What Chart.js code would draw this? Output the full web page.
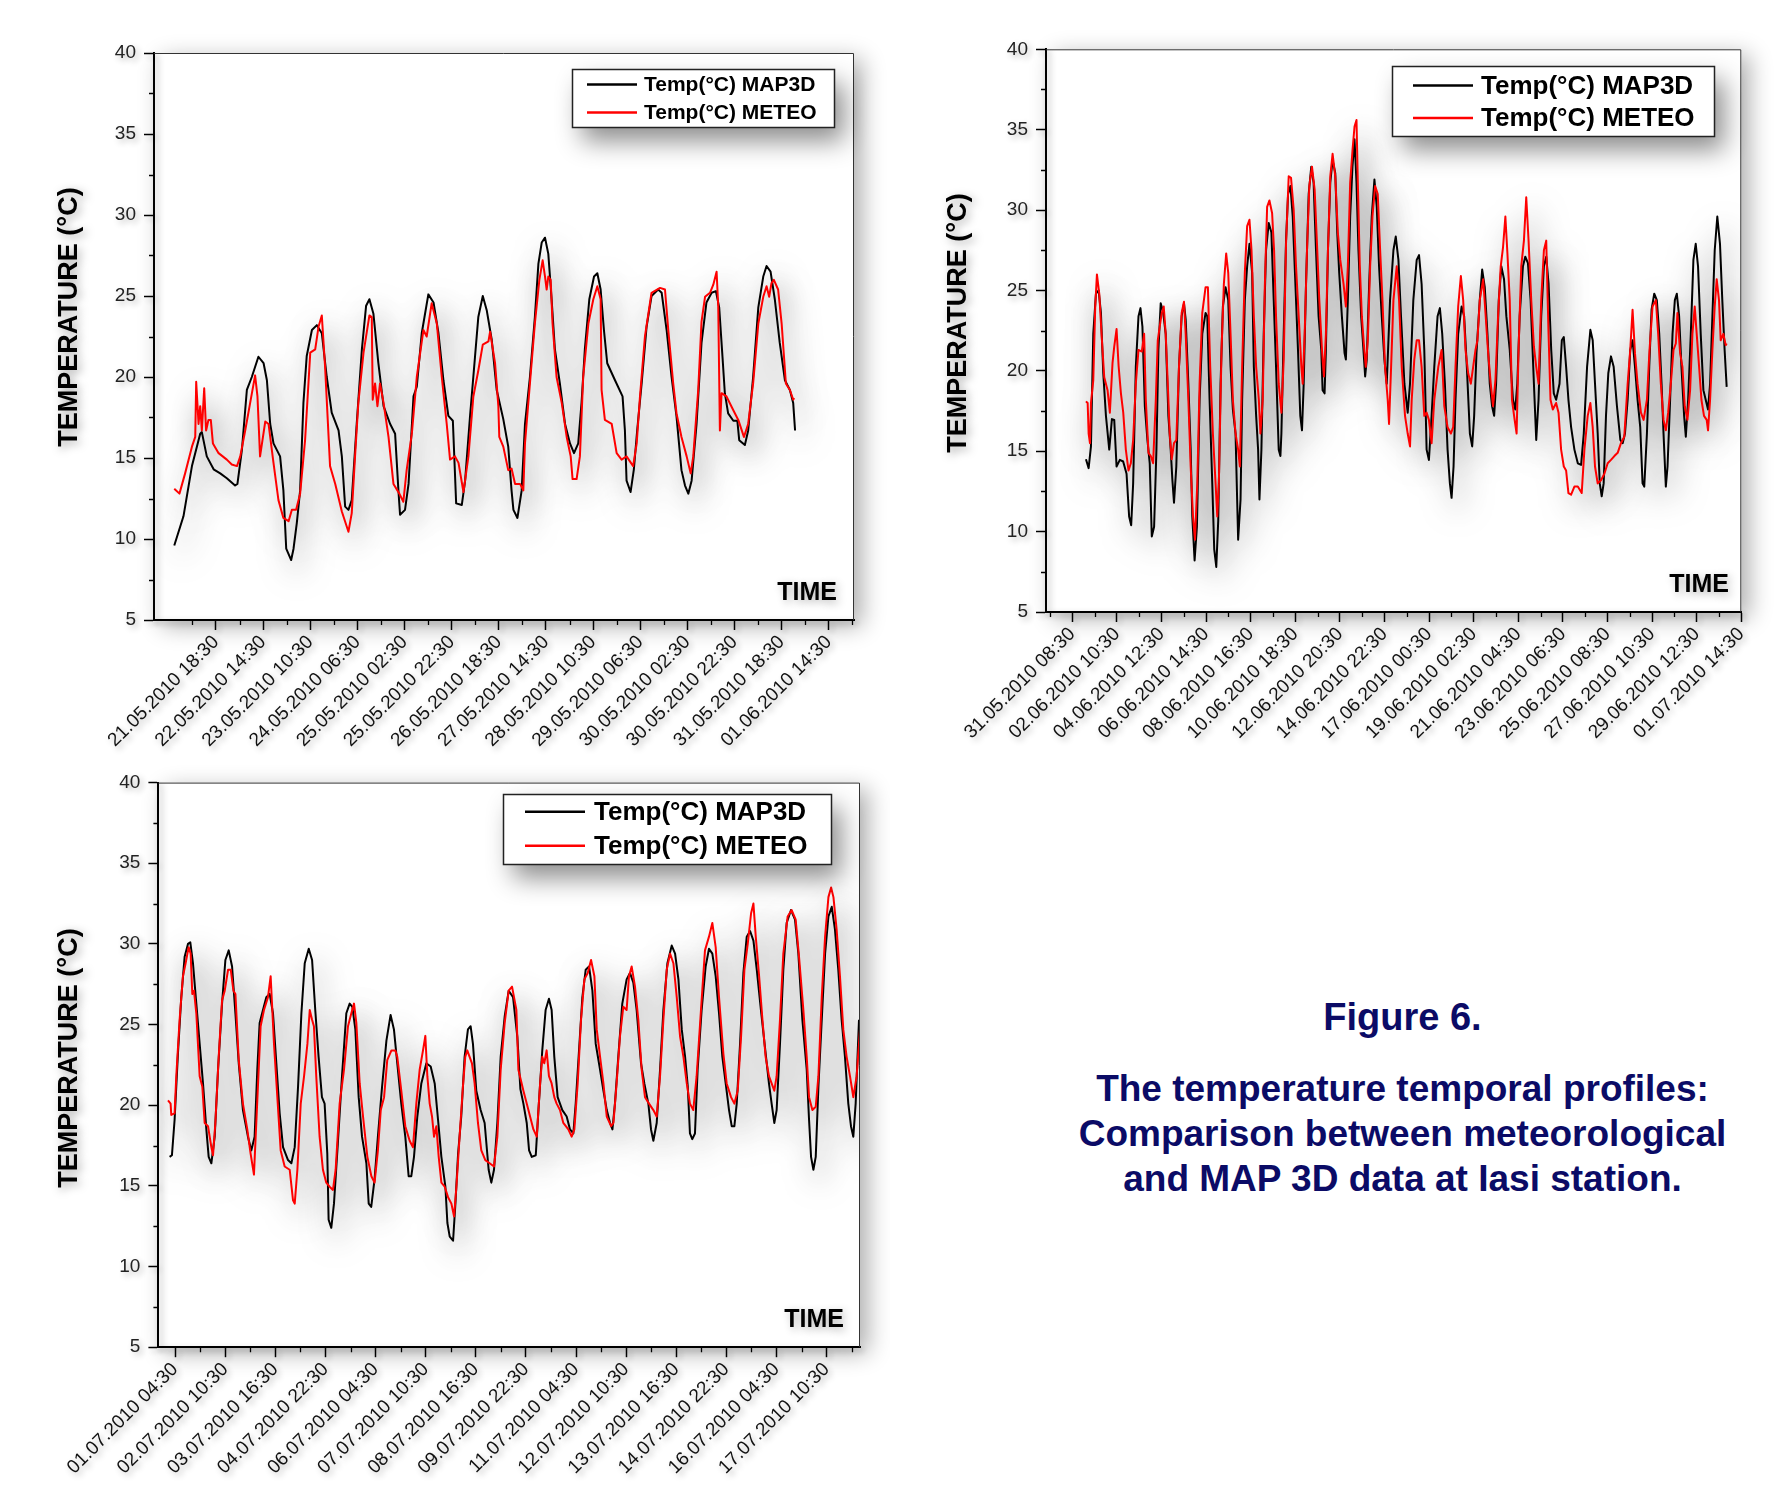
<!DOCTYPE html>
<html>
<head>
<meta charset="utf-8">
<script src="https://cdn.jsdelivr.net/npm/chart.js@4.4.0/dist/chart.umd.min.js"></script>
<style>
html,body{margin:0;padding:0;background:#fff;}
body{width:1789px;height:1499px;position:relative;overflow:hidden;font-family:"Liberation Sans",Arial,sans-serif;}
canvas{position:absolute;}
#c1{left:0;top:0;}
#c2{left:895px;top:0;}
#c3{left:0;top:760px;}
.cap{position:absolute;left:1030px;width:745px;text-align:center;color:#0b0b66;font-weight:bold;font-family:"Liberation Sans",Arial,sans-serif;white-space:nowrap;}
#fig{top:995px;font-size:38px;line-height:44px;}
#txt{top:1066px;font-size:37px;line-height:45px;}
</style>
</head>
<body>
<canvas id="c1" width="890" height="760"></canvas>
<canvas id="c2" width="894" height="770"></canvas>
<canvas id="c3" width="890" height="739"></canvas>
<div class="cap" id="fig">Figure 6.</div>
<div class="cap" id="txt">The temperature temporal profiles:<br>Comparison between meteorological<br>and MAP 3D data at Iasi station.</div>
<script>
// ---------------- DATA ----------------
const seriesNames = ['Temp(°C) MAP3D', 'Temp(°C) METEO'];
const yTickValues = [5, 10, 15, 20, 25, 30, 35, 40];
const yAxisTitle = 'TEMPERATURE (°C)';
const xAxisTitle = 'TIME';

// Panel 1 (hours since 21.05.2010 00:00)
const p1Origin = '21.05.2010 00:00';
const p1TickLabels = ['21.05.2010 18:30','22.05.2010 14:30','23.05.2010 10:30','24.05.2010 06:30','25.05.2010 02:30','25.05.2010 22:30','26.05.2010 18:30','27.05.2010 14:30','28.05.2010 10:30','29.05.2010 06:30','30.05.2010 02:30','30.05.2010 22:30','31.05.2010 18:30','01.06.2010 14:30'];
const p1Range = [-7.8, 289.2];
const p1Map3d = [[0.8,9.6],[4.7,11.4],[8.3,14.5],[11.8,16.5],[12.5,16.6],[14.6,15.1],[17.5,14.3],[20.3,14.05],[23.1,13.75],[26.6,13.3],[27.6,13.4],[29.5,15.5],[31.6,19.2],[33.7,20.0],[36.5,21.25],[38.7,20.85],[40.1,19.8],[41.5,17.1],[42.9,15.9],[45.7,15.1],[47.1,13.0],[48.3,9.4],[50.4,8.7],[51.4,9.4],[52.8,11.0],[54.2,13.0],[55.6,18.4],[57.0,21.3],[59.2,22.9],[61.3,23.2],[63.4,22.7],[65.5,20.0],[67.6,17.8],[70.5,16.7],[71.9,15.1],[73.3,12.0],[74.7,11.8],[76.1,12.4],[78.2,17.1],[80.4,21.7],[82.2,24.4],[83.6,24.8],[85.3,23.9],[87.4,20.85],[89.6,18.2],[92.4,17.1],[94.5,16.5],[95.9,13.0],[96.6,11.5],[98.7,11.8],[100.2,13.4],[102.3,18.8],[103.7,19.4],[105.8,22.7],[108.6,25.1],[110.8,24.6],[112.9,22.7],[115.0,19.8],[117.1,17.6],[119.0,17.3],[120.4,12.2],[122.8,12.1],[124.2,13.6],[126.3,17.6],[128.4,21.25],[129.8,23.7],[131.7,25.0],[133.4,24.1],[135.5,22.3],[137.6,19.2],[140.4,17.4],[142.5,15.7],[143.9,13.0],[144.7,11.8],[146.4,11.3],[148.2,13.0],[149.6,17.1],[151.7,20.0],[153.8,23.7],[155.3,27.0],[156.7,28.3],[158.1,28.6],[159.5,27.6],[160.9,24.8],[162.3,21.7],[164.4,19.6],[166.6,17.1],[168.7,15.9],[170.4,15.3],[172.2,15.9],[173.6,18.4],[175.0,21.7],[176.9,24.8],[178.9,26.2],[180.3,26.4],[181.7,25.4],[183.1,22.9],[184.5,20.85],[187.8,19.8],[191.0,18.8],[192.0,16.7],[192.7,13.6],[194.4,12.9],[195.8,14.3],[197.2,16.7],[199.1,19.6],[201.2,23.1],[203.3,25.0],[206.1,25.4],[207.6,25.2],[209.7,22.9],[211.8,20.0],[213.9,17.55],[216.0,14.25],[217.5,13.3],[218.9,12.8],[220.3,13.6],[222.4,17.1],[224.5,22.1],[226.6,24.6],[228.8,25.2],[230.6,25.3],[232.0,24.3],[233.4,21.25],[234.4,19.0],[235.8,17.75],[238.0,17.3],[239.7,17.3],[240.5,16.1],[242.9,15.8],[244.3,16.7],[246.4,20.0],[248.6,24.3],[250.7,26.2],[252.1,26.85],[253.8,26.5],[255.6,24.8],[257.7,22.1],[259.9,19.8],[262.0,19.2],[263.4,18.4],[264.2,16.7]];
const p1Meteo = [[0.8,13.1],[3.0,12.8],[5.4,14.05],[8.3,15.7],[9.7,16.3],[10.1,19.7],[11.1,17.1],[11.8,18.2],[12.5,16.7],[13.5,19.3],[14.3,16.7],[15.3,17.35],[16.3,17.35],[17.2,15.9],[19.6,15.3],[23.1,14.9],[25.2,14.6],[27.4,14.5],[28.8,15.1],[30.9,16.7],[33.0,18.4],[35.1,20.1],[36.1,18.8],[37.2,15.1],[39.4,17.25],[40.8,17.1],[42.9,14.7],[45.0,12.4],[47.1,11.3],[49.3,11.1],[50.7,11.8],[52.5,11.8],[54.2,12.8],[56.3,16.1],[58.5,21.5],[60.6,21.7],[62.0,23.1],[63.4,23.8],[64.8,20.6],[66.9,14.5],[69.1,13.4],[71.9,11.7],[74.7,10.45],[76.1,11.6],[77.5,15.1],[78.9,18.4],[81.1,21.5],[83.6,23.8],[84.6,23.7],[85.0,18.6],[86.0,19.6],[87.0,18.2],[88.1,19.6],[89.6,18.4],[91.7,16.3],[93.8,13.4],[96.3,12.8],[98.0,12.3],[99.4,14.25],[101.6,16.5],[103.7,20.0],[106.5,22.9],[107.9,22.5],[110.0,24.55],[112.2,23.3],[114.3,20.0],[116.4,17.1],[117.8,14.9],[119.9,15.1],[121.4,14.7],[123.5,12.9],[125.6,15.1],[127.7,18.8],[129.8,20.4],[131.7,22.0],[134.1,22.2],[134.8,22.8],[136.9,20.85],[138.3,18.2],[138.7,16.3],[140.4,15.7],[142.5,14.25],[143.9,14.35],[145.4,13.4],[147.5,13.4],[148.9,13.0],[149.6,15.9],[151.7,19.6],[153.8,23.3],[155.7,26.0],[157.1,27.2],[158.1,26.2],[158.8,25.4],[159.5,26.2],[160.5,26.0],[161.3,23.3],[163.0,20.0],[165.2,18.4],[167.3,16.3],[169.0,15.1],[169.8,13.7],[171.5,13.7],[172.9,15.1],[174.3,20.0],[176.5,23.3],[178.6,24.8],[180.3,25.6],[181.7,24.8],[182.1,19.2],[183.5,17.35],[186.4,17.1],[188.5,15.3],[190.6,14.9],[192.7,15.1],[195.5,14.5],[197.0,15.9],[198.4,18.8],[200.5,22.5],[203.3,25.2],[206.9,25.5],[209.0,25.4],[210.4,22.9],[212.5,19.6],[213.9,17.75],[216.0,16.3],[218.2,15.1],[219.9,14.05],[221.0,15.1],[223.1,19.2],[224.5,23.4],[226.0,24.95],[228.1,25.2],[229.5,25.7],[230.9,26.5],[231.6,24.35],[232.3,16.7],[233.0,19.0],[235.1,18.8],[238.0,17.95],[240.1,17.35],[242.5,16.3],[244.3,17.1],[246.4,19.6],[248.6,23.3],[250.7,24.95],[252.1,25.6],[253.2,24.95],[254.2,25.8],[255.2,26.0],[257.0,25.4],[258.5,23.3],[260.3,19.6],[262.0,19.2],[263.4,18.6],[263.8,18.7]];

// Panel 2 (hours since 31.05.2010 00:00)
const p2Origin = '31.05.2010 00:00';
const p2TickLabels = ['31.05.2010 08:30','02.06.2010 10:30','04.06.2010 12:30','06.06.2010 14:30','08.06.2010 16:30','10.06.2010 18:30','12.06.2010 20:30','14.06.2010 22:30','17.06.2010 00:30','19.06.2010 02:30','21.06.2010 04:30','23.06.2010 06:30','25.06.2010 08:30','27.06.2010 10:30','29.06.2010 12:30','01.07.2010 14:30'];
const p2Range = [-21, 758.5];
const p2Map3d = [[23.8,14.5],[26.8,13.95],[29.4,15.3],[32.0,22.3],[35.0,24.8],[38.0,25.0],[40.6,23.6],[43.2,19.85],[46.2,17.2],[49.9,15.1],[52.9,17.0],[55.5,16.95],[58.1,14.05],[61.8,14.46],[65.5,14.36],[69.3,13.6],[72.2,10.94],[74.5,10.4],[76.7,13.0],[79.7,20.25],[82.7,23.4],[84.9,23.9],[87.1,22.75],[89.8,17.8],[92.7,15.7],[95.3,14.25],[97.6,9.7],[100.2,10.3],[102.8,15.1],[105.0,21.3],[107.6,24.2],[110.2,23.7],[113.2,22.3],[116.2,17.2],[118.8,15.1],[120.7,13.2],[122.5,11.8],[125.1,14.05],[128.1,20.25],[131.1,23.4],[133.7,24.2],[135.6,23.2],[138.6,19.2],[141.2,15.1],[143.0,10.94],[145.6,8.2],[148.2,10.3],[151.2,18.2],[154.2,22.3],[157.9,23.6],[159.8,23.4],[162.4,18.2],[165.4,13.0],[167.6,8.9],[169.9,7.8],[172.1,10.7],[174.7,19.2],[177.3,24.0],[180.3,25.2],[183.3,24.4],[185.9,20.25],[188.5,17.6],[191.5,16.1],[193.3,12.0],[194.4,9.5],[197.1,12.0],[198.9,18.2],[201.9,24.4],[204.5,26.5],[207.1,27.9],[210.1,26.1],[212.0,20.25],[214.6,17.2],[216.8,15.1],[218.3,12.0],[220.5,15.1],[223.1,22.3],[225.7,27.5],[228.7,29.2],[231.7,28.6],[234.3,24.4],[236.9,20.25],[239.9,15.1],[241.8,14.7],[242.9,16.1],[245.5,22.3],[248.1,28.1],[250.4,31.0],[253.0,31.5],[255.6,29.6],[258.6,25.4],[261.5,21.3],[264.1,17.2],[266.0,16.3],[267.9,19.2],[270.5,25.4],[273.5,31.0],[276.4,32.7],[279.0,31.7],[281.7,27.5],[284.6,23.4],[287.6,21.3],[289.1,18.8],[291.3,18.6],[292.8,21.3],[295.1,27.5],[297.7,31.7],[300.3,33.1],[303.3,32.3],[305.5,28.6],[307.7,26.1],[310.7,23.4],[313.7,21.1],[315.2,20.7],[317.4,24.4],[320.0,29.6],[322.6,32.7],[324.9,34.4],[327.1,31.7],[329.3,27.5],[332.3,23.4],[334.9,21.3],[336.8,19.65],[338.6,20.7],[341.3,25.4],[344.2,29.6],[347.2,31.9],[349.8,30.2],[352.4,26.5],[355.4,23.4],[358.4,20.7],[361.0,19.2],[364.7,24.4],[368.5,27.5],[371.1,28.35],[374.1,26.9],[377.0,23.4],[380.8,19.2],[384.5,17.4],[387.1,19.2],[390.8,24.4],[394.6,26.9],[397.2,27.2],[400.1,25.4],[403.1,21.3],[405.7,15.1],[408.3,14.46],[411.3,17.2],[414.3,20.25],[418.0,23.4],[420.6,23.9],[423.2,22.3],[426.2,19.2],[429.2,15.1],[431.8,13.0],[433.7,12.1],[435.9,14.05],[438.1,18.2],[441.1,22.3],[444.9,24.0],[447.8,23.4],[450.8,20.25],[454.2,16.1],[456.8,15.3],[459.0,17.2],[461.6,21.1],[465.3,24.4],[468.0,26.3],[470.9,25.2],[473.9,22.3],[476.5,19.2],[479.1,17.8],[481.4,17.2],[483.6,19.2],[486.6,24.4],[489.5,26.5],[492.5,25.7],[495.1,23.4],[498.9,21.3],[502.5,18.2],[505.1,17.6],[507.4,19.2],[510.0,23.4],[513.7,26.5],[516.3,27.1],[519.3,26.7],[522.3,24.4],[526.0,19.2],[528.6,15.7],[531.2,18.2],[534.2,23.4],[537.2,26.5],[539.8,27.1],[542.4,25.45],[545.4,21.3],[548.3,18.6],[550.9,18.2],[554.7,19.2],[557.3,21.9],[559.5,22.1],[562.1,20.25],[564.7,18.2],[567.7,16.5],[571.4,15.1],[575.2,14.25],[578.9,14.15],[581.9,16.1],[585.6,20.25],[589.3,22.55],[591.9,21.9],[594.5,19.2],[597.5,16.1],[599.8,13.0],[602.0,12.2],[604.2,13.0],[606.8,17.2],[609.4,19.85],[612.4,20.9],[615.4,20.25],[619.1,17.8],[622.9,15.7],[625.5,15.5],[628.1,16.1],[631.1,18.2],[634.0,21.3],[636.6,21.9],[639.3,20.25],[642.2,18.2],[645.2,16.5],[647.8,13.0],[649.7,12.8],[652.7,16.1],[655.3,20.25],[657.9,23.8],[660.9,24.8],[663.8,24.4],[666.5,22.3],[669.1,19.2],[671.3,16.1],[673.9,12.8],[675.8,14.05],[678.7,18.2],[681.4,22.3],[684.0,24.4],[686.2,24.8],[688.8,23.4],[691.4,20.25],[694.4,17.2],[696.3,15.9],[698.9,18.2],[701.9,22.3],[704.8,26.9],[707.4,27.9],[710.0,26.5],[713.0,22.3],[716.0,18.8],[718.6,18.2],[721.2,17.6],[723.5,19.2],[726.1,23.4],[728.7,27.5],[731.6,29.6],[734.6,27.9],[737.2,24.4],[739.8,21.3],[742.1,19.0]];
const p2Meteo = [[23.8,18.1],[25.7,18.0],[26.8,16.1],[28.3,15.5],[29.4,18.0],[32.0,19.4],[34.2,24.0],[36.1,26.0],[38.7,24.8],[41.7,21.9],[44.3,19.6],[48.0,18.8],[50.6,17.4],[53.6,20.5],[55.5,21.5],[58.1,22.6],[60.4,20.3],[63.0,18.6],[65.6,17.4],[68.5,15.1],[71.5,13.8],[74.1,14.25],[76.7,15.7],[79.7,19.2],[82.7,21.3],[86.4,21.2],[89.0,22.3],[90.9,18.2],[93.9,14.9],[96.5,14.7],[99.1,14.25],[102.1,18.2],[104.3,21.9],[106.5,22.75],[108.8,23.6],[111.0,24.0],[113.2,22.3],[115.5,19.2],[117.7,16.1],[119.9,14.5],[122.5,15.5],[125.1,15.7],[128.1,20.25],[131.1,23.6],[133.7,24.3],[135.6,22.3],[138.6,18.2],[141.2,14.05],[143.8,10.94],[146.0,9.5],[148.6,13.0],[151.2,19.2],[154.2,23.6],[157.9,25.2],[160.5,25.2],[163.1,20.25],[166.1,16.1],[169.1,13.0],[171.0,10.94],[172.8,13.0],[175.8,21.3],[178.4,25.4],[181.0,27.3],[183.3,26.1],[185.9,22.3],[188.5,18.2],[191.5,16.1],[194.4,15.1],[196.3,14.05],[198.9,20.25],[201.9,26.1],[204.5,29.0],[207.1,29.4],[209.4,27.5],[212.0,23.4],[214.6,20.25],[217.6,18.2],[219.4,16.1],[222.0,18.2],[224.3,25.2],[226.9,30.2],[229.5,30.6],[232.5,29.8],[234.7,27.5],[236.9,23.4],[239.9,19.2],[242.9,17.4],[245.5,20.7],[248.1,27.9],[251.1,32.1],[253.7,32.0],[256.7,30.0],[259.3,26.5],[262.3,23.4],[265.3,20.25],[266.8,19.2],[269.0,22.3],[271.6,27.5],[274.2,31.5],[277.2,32.7],[280.2,31.25],[282.8,27.9],[285.4,24.4],[288.4,21.3],[290.6,19.65],[292.8,22.3],[295.1,27.5],[297.7,32.1],[300.3,33.5],[303.3,32.1],[306.2,28.6],[308.9,26.9],[312.6,25.4],[315.2,24.0],[317.4,26.5],[320.0,31.7],[322.6,33.7],[324.9,35.2],[327.1,35.6],[328.6,31.7],[330.8,26.5],[333.1,23.4],[335.3,21.7],[337.5,20.25],[339.8,21.9],[342.4,26.5],[345.0,29.6],[348.0,31.5],[350.9,31.0],[353.6,27.5],[356.2,24.4],[359.1,20.25],[362.1,18.2],[363.6,16.7],[365.9,20.25],[368.5,24.4],[372.2,26.5],[374.8,24.4],[377.8,20.25],[381.5,17.2],[384.5,16.1],[387.1,15.3],[389.0,18.2],[391.9,20.7],[394.6,21.9],[397.2,21.9],[400.1,20.25],[403.1,17.2],[405.7,17.4],[408.3,16.95],[411.3,15.5],[414.3,18.2],[418.8,20.25],[422.5,21.3],[425.5,17.8],[429.2,16.5],[432.9,16.1],[435.5,16.5],[438.1,20.25],[441.1,24.0],[444.1,25.9],[446.7,24.4],[449.3,21.3],[452.3,19.85],[455.3,19.2],[457.9,20.25],[460.5,21.3],[462.7,21.9],[465.3,24.4],[469.1,25.7],[471.7,23.6],[474.7,21.1],[477.6,19.2],[480.2,17.8],[482.9,19.45],[485.8,23.4],[488.8,26.5],[491.4,27.7],[494.0,29.6],[496.3,27.3],[498.9,24.4],[501.4,18.2],[504.4,16.95],[506.6,16.1],[508.8,21.3],[511.8,26.5],[514.8,28.1],[517.4,30.8],[520.0,28.1],[523.0,24.4],[526.0,21.5],[528.6,20.25],[531.2,19.2],[534.2,24.4],[537.2,27.5],[539.8,28.1],[542.4,22.3],[544.6,18.2],[547.2,17.6],[550.9,18.0],[553.6,17.4],[556.5,15.1],[559.5,14.05],[562.1,13.8],[564.7,12.4],[567.7,12.3],[571.4,12.8],[575.2,12.8],[579.6,12.4],[582.6,15.1],[586.3,17.2],[589.3,18.0],[591.9,16.5],[594.5,14.05],[597.5,13.0],[601.2,13.2],[605.0,13.6],[608.7,14.25],[612.4,14.46],[616.2,14.7],[619.9,14.9],[623.6,15.5],[627.3,15.9],[631.1,19.2],[634.0,21.3],[636.6,23.8],[639.3,21.1],[642.2,19.2],[646.0,17.4],[649.0,16.95],[652.7,18.2],[655.6,21.3],[659.0,24.0],[662.7,24.4],[665.3,22.3],[668.3,19.2],[671.3,16.95],[673.9,16.3],[676.5,17.4],[679.5,19.2],[682.5,21.3],[685.1,21.7],[686.9,23.6],[689.9,21.1],[692.5,20.25],[695.1,17.8],[698.1,16.95],[701.1,18.8],[703.7,22.3],[706.3,24.0],[708.5,22.3],[711.2,20.25],[713.8,18.2],[716.7,17.2],[719.7,16.95],[721.2,16.3],[723.5,18.2],[726.1,21.3],[728.7,24.0],[730.9,25.7],[733.5,24.4],[735.4,21.9],[738.4,22.3],[741.0,21.6],[742.1,21.7]];

// Panel 3 (hours since 01.07.2010 00:00)
const p3Origin = '01.07.2010 00:00';
const p3TickLabels = ['01.07.2010 04:30','02.07.2010 10:30','03.07.2010 16:30','04.07.2010 22:30','06.07.2010 04:30','07.07.2010 10:30','08.07.2010 16:30','09.07.2010 22:30','11.07.2010 04:30','12.07.2010 10:30','13.07.2010 16:30','14.07.2010 22:30','16.07.2010 04:30','17.07.2010 10:30'];
const p3Range = [-5.5, 414.5];
const p3Map3d = [[1.2,16.8],[2.6,16.9],[4.2,19.1],[6.2,23.2],[8.2,26.7],[10.2,29.2],[12.2,30.0],[13.6,30.1],[15.2,28.8],[17.2,26.3],[19.2,23.8],[21.2,21.35],[23.2,18.5],[24.6,16.8],[26.2,16.4],[28.2,18.05],[30.2,22.2],[32.6,26.3],[34.6,29.0],[36.6,29.6],[38.6,28.6],[40.6,25.7],[42.6,22.6],[45.1,19.7],[48.1,18.05],[50.1,17.2],[52.1,18.05],[53.7,22.2],[55.1,25.1],[57.1,25.9],[59.1,26.7],[61.1,26.9],[63.1,25.7],[65.1,22.6],[67.1,19.5],[69.1,17.4],[72.1,16.6],[74.1,16.4],[76.1,17.4],[78.1,21.15],[80.1,25.7],[82.1,28.8],[84.5,29.7],[86.5,29.0],[88.4,25.9],[90.4,23.0],[92.4,20.5],[94.0,20.1],[95.6,17.0],[96.4,12.9],[98.0,12.4],[99.6,13.9],[101.9,17.6],[104.4,21.8],[107.0,25.7],[109.0,26.3],[110.6,26.1],[112.4,24.7],[114.4,20.5],[116.4,18.05],[119.0,16.4],[120.4,13.9],[121.9,13.7],[123.9,15.4],[125.9,18.05],[128.4,21.15],[131.0,24.0],[133.5,25.6],[135.5,24.7],[137.5,22.6],[139.9,20.1],[142.3,18.05],[144.3,15.6],[145.9,15.6],[147.5,16.8],[149.5,19.3],[151.9,21.35],[154.9,22.6],[157.5,22.4],[159.9,21.35],[161.9,19.1],[163.9,16.8],[166.3,14.95],[167.5,12.7],[168.9,11.85],[170.9,11.6],[172.3,13.9],[173.9,17.0],[175.8,19.3],[177.8,23.0],[179.8,24.7],[181.4,24.9],[182.8,23.8],[184.8,20.9],[187.4,19.7],[189.8,18.9],[192.2,16.0],[193.8,15.2],[195.4,16.0],[197.4,18.9],[199.4,23.0],[201.8,25.5],[204.2,27.1],[206.8,26.7],[209.4,24.2],[211.2,21.0],[213.0,20.1],[215.0,18.9],[216.4,17.2],[218.0,16.8],[220.4,16.9],[222.0,19.7],[224.3,23.4],[226.3,25.9],[228.3,26.6],[229.9,25.9],[231.5,23.0],[233.5,20.5],[236.3,19.7],[238.9,19.3],[240.9,18.5],[242.9,18.25],[244.3,20.1],[246.3,23.4],[248.3,26.7],[250.3,28.4],[252.3,28.6],[254.3,27.1],[256.3,23.8],[258.9,22.2],[260.9,20.9],[262.9,19.7],[264.9,18.9],[266.3,18.5],[267.8,20.1],[269.8,23.0],[272.2,26.3],[274.8,27.8],[276.8,28.2],[278.8,27.6],[280.8,25.9],[283.4,22.6],[285.4,21.35],[287.8,20.1],[289.4,18.5],[290.8,17.8],[292.8,18.9],[294.8,22.2],[296.8,25.9],[299.2,28.8],[301.8,29.9],[303.8,29.4],[305.8,27.8],[307.8,24.7],[309.8,23.0],[311.4,21.15],[312.7,18.25],[314.1,17.9],[315.7,18.25],[317.3,22.2],[319.7,25.9],[322.1,28.6],[324.1,29.7],[326.1,29.4],[328.1,28.0],[330.1,25.7],[332.1,23.0],[334.1,21.35],[336.1,19.7],[337.7,18.7],[339.3,18.7],[340.7,20.1],[342.7,23.8],[344.7,28.2],[346.7,30.45],[348.7,30.8],[350.7,30.2],[352.7,28.4],[355.2,25.9],[357.6,23.6],[360.0,21.35],[361.6,20.1],[363.2,18.9],[364.6,19.7],[366.6,23.8],[368.6,28.4],[370.6,31.3],[373.2,32.1],[375.6,31.5],[377.6,29.4],[380.0,25.3],[382.6,22.2],[384.0,19.1],[385.2,16.8],[386.6,16.0],[388.0,16.8],[389.6,21.15],[391.6,25.3],[393.6,29.4],[395.6,31.7],[397.6,32.3],[399.5,30.9],[401.5,28.4],[403.5,25.3],[405.5,23.0],[407.5,20.1],[409.1,18.7],[410.5,18.05],[411.9,20.1],[413.9,25.3]];
const p3Meteo = [[0.25,20.3],[1.8,20.1],[2.2,19.4],[4.2,19.5],[5.2,21.8],[7.2,25.3],[9.2,28.0],[10.8,28.8],[12.6,29.8],[13.8,29.4],[14.8,26.9],[15.8,27.1],[17.2,25.7],[19.2,21.8],[20.8,21.15],[22.2,18.9],[24.2,18.7],[26.2,17.4],[27.2,16.9],[28.6,18.9],[30.6,23.0],[32.6,26.5],[34.2,27.1],[36.2,28.4],[37.8,28.4],[39.4,27.1],[40.6,26.9],[42.6,22.8],[45.1,20.1],[47.7,18.5],[49.7,17.0],[51.7,15.7],[53.1,18.9],[55.7,24.9],[57.7,25.9],[60.1,26.7],[61.7,28.0],[62.5,26.3],[63.7,23.8],[65.7,20.5],[67.7,17.2],[70.1,16.2],[73.1,16.0],[75.1,14.1],[76.1,13.9],[77.7,16.0],[79.7,20.1],[81.7,21.8],[83.7,23.8],[85.1,25.9],[86.5,25.3],[87.6,24.9],[89.0,21.8],[91.0,18.05],[93.0,16.0],[95.0,15.2],[97.0,14.95],[99.0,14.75],[100.6,16.0],[103.0,20.1],[105.6,22.2],[108.0,24.9],[110.0,25.7],[111.6,26.3],[113.0,25.1],[115.0,21.35],[117.0,19.3],[119.6,16.8],[122.0,15.6],[123.9,15.2],[125.9,17.2],[127.6,19.7],[129.6,20.5],[131.5,22.8],[134.0,23.4],[136.3,23.4],[137.5,23.0],[139.9,20.9],[142.3,18.7],[144.9,17.8],[146.9,17.4],[148.9,20.1],[150.9,22.2],[152.9,23.4],[154.3,24.3],[155.5,21.8],[156.9,20.1],[158.3,19.3],[159.5,18.05],[160.9,18.7],[162.3,16.8],[163.9,15.2],[165.9,14.95],[167.9,14.3],[169.9,13.9],[171.5,13.1],[172.9,14.95],[174.8,18.05],[176.8,21.15],[178.2,23.0],[179.4,23.4],[180.8,23.0],[182.2,22.6],[183.8,21.35],[185.8,18.9],[187.8,17.2],[190.2,16.6],[192.8,16.4],[195.4,16.2],[197.4,18.05],[199.4,22.2],[201.8,25.1],[204.2,27.1],[206.2,27.35],[208.8,25.9],[210.0,22.2],[213.0,20.9],[216.0,19.7],[219.0,18.5],[221.0,18.05],[223.0,21.35],[224.3,23.0],[225.5,22.6],[226.9,23.4],[228.3,21.8],[229.9,21.35],[231.5,20.5],[232.9,20.1],[234.9,19.7],[236.9,18.9],[239.9,18.5],[241.9,18.05],[243.5,18.5],[245.5,21.35],[247.5,25.3],[249.5,27.8],[251.5,28.2],[253.5,29.0],[255.5,28.0],[256.9,24.7],[258.9,23.0],[260.9,21.35],[262.9,19.3],[265.5,18.7],[266.9,18.9],[268.8,21.35],[270.8,24.25],[272.8,26.1],[274.8,25.9],[276.2,28.0],[277.8,28.6],[279.8,27.35],[281.8,25.3],[283.8,22.2],[285.8,20.5],[288.2,20.1],[290.8,19.7],[292.8,19.3],[294.8,21.8],[296.8,25.3],[298.8,28.4],[300.8,29.4],[302.8,28.8],[304.8,26.7],[306.8,24.25],[308.8,23.0],[310.8,21.35],[312.7,20.1],[314.7,19.7],[316.7,21.8],[319.3,25.9],[321.7,29.6],[324.1,30.45],[326.1,31.3],[328.1,29.8],[330.1,26.7],[332.7,23.2],[334.7,21.35],[337.3,20.5],[339.3,20.1],[341.3,20.9],[343.3,24.25],[345.3,28.4],[347.3,30.0],[349.3,31.9],[350.7,32.5],[352.1,30.45],[354.1,28.0],[356.1,25.3],[358.0,23.0],[360.0,21.8],[361.6,21.35],[363.2,20.9],[364.6,21.8],[366.6,25.3],[368.6,29.4],[371.2,31.7],[373.6,32.1],[376.0,31.5],[378.0,29.2],[380.6,25.9],[382.6,23.0],[384.0,20.5],[386.0,19.7],[388.0,19.9],[389.6,21.8],[391.6,26.7],[393.6,30.45],[395.6,32.9],[397.2,33.5],[398.6,32.9],[400.5,30.9],[402.5,28.0],[404.5,24.7],[406.5,23.0],[408.5,21.8],[410.5,20.5],[412.5,21.8],[414.5,24.7]];

// ---------------- HELPERS ----------------
const FONT = "'Liberation Sans', Arial, Helvetica, sans-serif";
Chart.defaults.font.family = FONT;

function stampHours(s) {
  const [d, t] = s.split(' ');
  const [dd, mm, yy] = d.split('.').map(Number);
  const [hh, mi] = t.split(':').map(Number);
  return Date.UTC(yy, mm - 1, dd, hh, mi) / 3600000;
}

function minorPositions(major, range) {
  const half = (major[1] - major[0]) / 2;
  const out = [];
  for (let v = major[0] - half; v >= range[0]; v -= 2 * half) out.unshift(v);
  for (let i = 0; i < major.length - 1; i++) out.push(major[i] + half);
  for (let v = major[major.length - 1] + half; v <= range[1]; v += 2 * half) out.push(v);
  return out;
}

const yMinor = yTickValues.slice(0, -1).map(v => v + 2.5);

const decoPlugin = {
  id: 'deco',
  beforeDraw(chart) {
    const {ctx, chartArea: a} = chart;
    ctx.save();
    ctx.shadowColor = 'rgba(0,0,0,0.32)';
    ctx.shadowBlur = 22;
    ctx.shadowOffsetX = 8;
    ctx.shadowOffsetY = 6;
    ctx.fillStyle = '#fff';
    ctx.fillRect(a.left, a.top, a.right - a.left, a.bottom - a.top);
    ctx.restore();
    // soft shadow for scales (ticks, labels, axis lines)
    ctx.save();
    ctx.shadowColor = 'rgba(0,0,0,0.30)';
    ctx.shadowBlur = 6;
    ctx.shadowOffsetX = 3;
    ctx.shadowOffsetY = 3;
  },
  beforeDatasetsDraw(chart) {
    const ctx = chart.ctx;
    ctx.save();
    ctx.shadowColor = 'rgba(0,0,0,0.62)';
    ctx.shadowBlur = 30;
    ctx.shadowOffsetX = 6;
    ctx.shadowOffsetY = 12;
  },
  afterDatasetsDraw(chart) {
    const {ctx, chartArea: a} = chart;
    ctx.restore();
    ctx.save();
    ctx.shadowColor = 'rgba(0,0,0,0)';
    ctx.strokeStyle = '#333';
    ctx.lineWidth = 1;
    ctx.beginPath();
    ctx.moveTo(a.left, a.top + 0.5);
    ctx.lineTo(a.right - 0.5, a.top + 0.5);
    ctx.lineTo(a.right - 0.5, a.bottom);
    ctx.stroke();
    ctx.restore();
  },
  afterDraw(chart) {
    const {ctx, chartArea: a, scales} = chart;
    ctx.restore(); // end of scale shadow state opened in beforeDraw
    const o = chart.options.plugins.deco;
    // minor ticks
    ctx.save();
    ctx.strokeStyle = '#000';
    ctx.lineWidth = 1.3;
    ctx.beginPath();
    o.xMinor.forEach(v => {
      const x = Math.round(scales.x.getPixelForValue(v)) + 0.5;
      ctx.moveTo(x, a.bottom); ctx.lineTo(x, a.bottom + 5);
    });
    o.yMinor.forEach(v => {
      const y = Math.round(scales.y.getPixelForValue(v)) + 0.5;
      ctx.moveTo(a.left, y); ctx.lineTo(a.left - 5, y);
    });
    ctx.stroke();
    ctx.restore();

    // legend box
    const L = o.legend;
    ctx.save();
    ctx.shadowColor = 'rgba(0,0,0,0.45)';
    ctx.shadowBlur = 26;
    ctx.shadowOffsetX = 10;
    ctx.shadowOffsetY = 14;
    ctx.fillStyle = '#fff';
    ctx.fillRect(L.x, L.y, L.w, L.h);
    ctx.restore();
    ctx.save();
    ctx.strokeStyle = '#222';
    ctx.lineWidth = 1.5;
    ctx.strokeRect(L.x + 0.5, L.y + 0.5, L.w, L.h);
    chart.data.datasets.forEach((ds, i) => {
      const ry = L.rows[i];
      ctx.strokeStyle = ds.borderColor;
      ctx.lineWidth = 2.5;
      ctx.beginPath();
      ctx.moveTo(L.lx0, ry); ctx.lineTo(L.lx1, ry);
      ctx.stroke();
      ctx.fillStyle = '#000';
      ctx.font = 'bold ' + L.size + 'px ' + FONT;
      ctx.textAlign = 'left';
      ctx.textBaseline = 'middle';
      ctx.fillText(ds.label, L.tx, ry + 1);
    });
    ctx.restore();

    // axis titles
    ctx.save();
    ctx.shadowColor = 'rgba(0,0,0,0.35)';
    ctx.shadowBlur = 10;
    ctx.shadowOffsetX = 3;
    ctx.shadowOffsetY = 3;
    ctx.fillStyle = '#000';
    ctx.font = 'bold 27px ' + FONT;
    ctx.textAlign = 'center';
    ctx.textBaseline = 'middle';
    ctx.translate(o.yTitle.x, o.yTitle.y);
    ctx.rotate(-Math.PI / 2);
    ctx.fillText(yAxisTitle, 0, 0);
    ctx.restore();

    ctx.save();
    ctx.shadowColor = 'rgba(0,0,0,0.3)';
    ctx.shadowBlur = 8;
    ctx.shadowOffsetX = 3;
    ctx.shadowOffsetY = 3;
    ctx.fillStyle = '#000';
    ctx.font = 'bold 25px ' + FONT;
    ctx.textAlign = 'right';
    ctx.textBaseline = 'alphabetic';
    ctx.fillText(xAxisTitle, o.time.x, o.time.y);
    ctx.restore();
  }
};

function makeChart(id, cfg) {
  const originH = stampHours(cfg.origin);
  const majors = cfg.tickLabels.map(s => stampHours(s) - originH);
  const xMinor = minorPositions(majors, cfg.range);
  new Chart(document.getElementById(id), {
    type: 'line',
    data: {
      datasets: [
        {label: seriesNames[0], data: cfg.map3d, borderColor: '#000000', borderWidth: 2, order: 1},
        {label: seriesNames[1], data: cfg.meteo, borderColor: '#ff0000', borderWidth: 2, order: 0}
      ]
    },
    options: {
      responsive: false,
      animation: false,
      devicePixelRatio: 1,
      events: [],
      layout: {padding: {top: cfg.padTop, right: cfg.padRight, left: 0, bottom: 0}},
      elements: {point: {radius: 0}, line: {tension: 0, borderJoinStyle: 'round'}},
      plugins: {
        legend: {display: false},
        tooltip: {enabled: false},
        deco: {xMinor: xMinor, yMinor: yMinor, legend: cfg.legend, yTitle: cfg.yTitle, time: cfg.time}
      },
      scales: {
        x: {
          type: 'linear',
          position: 'bottom',
          min: cfg.range[0],
          max: cfg.range[1],
          afterBuildTicks: s => { s.ticks = majors.map(v => ({value: v})); },
          afterFit: s => { s.height = cfg.xAxisH; },
          ticks: {
            autoSkip: false,
            minRotation: 45,
            maxRotation: 45,
            padding: 1,
            color: '#111',
            font: {size: 19},
            callback: (v, i) => cfg.tickLabels[i]
          },
          grid: {display: true, drawOnChartArea: false, drawTicks: true, tickLength: 10, tickColor: '#000', tickWidth: 1.5},
          border: {display: true, color: '#000', width: 2}
        },
        y: {
          type: 'linear',
          min: 5,
          max: 40,
          afterBuildTicks: s => { s.ticks = yTickValues.map(v => ({value: v})); },
          afterFit: s => { s.width = cfg.yAxisW; },
          ticks: {padding: 8, color: '#222', font: {size: 19}, callback: v => String(v)},
          grid: {display: true, drawOnChartArea: false, drawTicks: true, tickLength: 10, tickColor: '#000', tickWidth: 1.5},
          border: {display: true, color: '#000', width: 2}
        }
      }
    },
    plugins: [decoPlugin]
  });
}

makeChart('c1', {
  origin: p1Origin, tickLabels: p1TickLabels, range: p1Range, map3d: p1Map3d, meteo: p1Meteo,
  padTop: 53, padRight: 36, yAxisW: 154, xAxisH: 140,
  legend: {x: 572, y: 69, w: 262, h: 58, rows: [84.6, 112.4], lx0: 587, lx1: 637, tx: 644, size: 21},
  yTitle: {x: 70, y: 317},
  time: {x: 837, y: 600}
});

makeChart('c2', {
  origin: p2Origin, tickLabels: p2TickLabels, range: p2Range, map3d: p2Map3d, meteo: p2Meteo,
  padTop: 49.3, padRight: 47.7, yAxisW: 151, xAxisH: 158,
  legend: {x: 497, y: 66, w: 322, h: 70, rows: [85.6, 118], lx0: 518, lx1: 578, tx: 586, size: 26},
  yTitle: {x: 63.7, y: 323},
  time: {x: 834, y: 592}
});

makeChart('c3', {
  origin: p3Origin, tickLabels: p3TickLabels, range: p3Range, map3d: p3Map3d, meteo: p3Meteo,
  padTop: 22.6, padRight: 30, yAxisW: 158.4, xAxisH: 151.8,
  legend: {x: 503, y: 34, w: 328, h: 70, rows: [51.8, 85.8], lx0: 525, lx1: 585, tx: 594, size: 26},
  yTitle: {x: 70, y: 298},
  time: {x: 844, y: 567}
});
</script>
</body>
</html>
